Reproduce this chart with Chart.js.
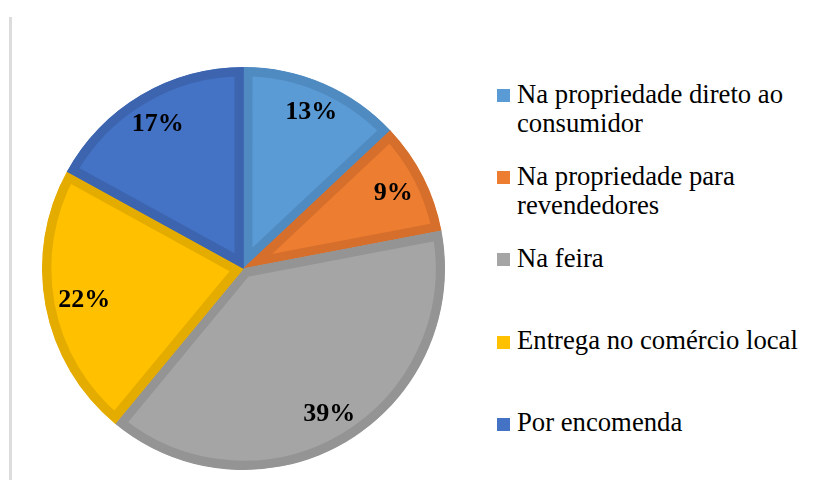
<!DOCTYPE html>
<html>
<head>
<meta charset="utf-8">
<script src="https://cdn.jsdelivr.net/npm/chart.js@4/dist/chart.umd.min.js"></script>
<style>
  html, body { margin: 0; padding: 0; background: #fff; }
  #page { position: relative; width: 830px; height: 480px; overflow: hidden; }
  #frame { position: absolute; left: 9px; top: 17px; width: 3px; height: 470px; background: #dcdcdc; }
  #pieBox { position: absolute; left: 42px; top: 67px; width: 403px; height: 403px; }
  .leg { position: absolute; left: 497px; font-family: "Liberation Serif", "Times New Roman", serif;
         font-size: 26.7px; line-height: 29px; color: #000; }
  .leg .box { position: absolute; left: 0; width: 13px; height: 13px; }
  .leg .txt { position: absolute; left: 20px; width: 305px; }
</style>
</head>
<body>
<div id="page">
  <div id="frame"></div>
  <div id="pieBox"><canvas id="pie" width="403" height="403"></canvas></div>
  <div id="legend"></div>
</div>
<script>
// --- dados ---
const categorias = [
    'Na propriedade direto ao consumidor',
    'Na propriedade para revendedores',
    'Na feira',
    'Entrega no comércio local',
    'Por encomenda'
];
const percentuais = [13, 9, 39, 22, 17];
const coresFundo = ['#5B9BD5', '#ED7D31', '#A5A5A5', '#FFC000', '#4472C4'];
const coresBorda = ['#4F8AC1', '#D56F2B', '#949494', '#E5AC00', '#3D65AF'];

// rótulos de porcentagem dentro das fatias
const percentLabels = {
    id: 'percentLabels',
    afterDatasetsDraw(chart) {
        const ctx = chart.ctx;
        const meta = chart.getDatasetMeta(0);
        ctx.save();
        ctx.font = 'bold 26px "Liberation Serif", "Times New Roman", serif';
        ctx.fillStyle = '#000';
        ctx.textAlign = 'center';
        ctx.textBaseline = 'middle';
        meta.data.forEach((arc, i) => {
            const p = arc.getProps(['x', 'y', 'startAngle', 'endAngle', 'outerRadius'], true);
            const mid = (p.startAngle + p.endAngle) / 2;
            const text = chart.data.datasets[0].data[i] + '%';
            const halfW = ctx.measureText(text).width / 2;
            const halfH = 9;
            const c = Math.cos(mid), s = Math.sin(mid);
            const r = p.outerRadius * 0.94 - (halfW * Math.abs(c) + halfH * Math.abs(s));
            ctx.fillText(text, p.x + c * r, p.y + s * r + 1);
        });
        ctx.restore();
    }
};

new Chart(document.getElementById('pie'), {
    type: 'pie',
    data: {
        labels: categorias,
        datasets: [{
            data: percentuais,
            backgroundColor: coresFundo,
            borderColor: coresBorda,
            borderWidth: 9,
            borderAlign: 'inner',
            borderJoinStyle: 'miter'
        }]
    },
    options: {
        responsive: false,
        animation: false,
        devicePixelRatio: 1,
        layout: { padding: 0 },
        plugins: {
            legend: { display: false },
            tooltip: { enabled: false }
        }
    },
    plugins: [percentLabels]
});

// legenda em HTML
const legend = document.getElementById('legend');
const firstBaseline = 103;
const step = 82.2;
categorias.forEach((nome, i) => {
    const base = firstBaseline + i * step;
    const item = document.createElement('div');
    item.className = 'leg';
    item.style.top = (base - 23.5) + 'px';
    const box = document.createElement('div');
    box.className = 'box';
    box.style.background = coresFundo[i];
    box.style.top = '9.5px';
    const txt = document.createElement('div');
    txt.className = 'txt';
    txt.textContent = nome;
    item.appendChild(box);
    item.appendChild(txt);
    legend.appendChild(item);
});
</script>
</body>
</html>
